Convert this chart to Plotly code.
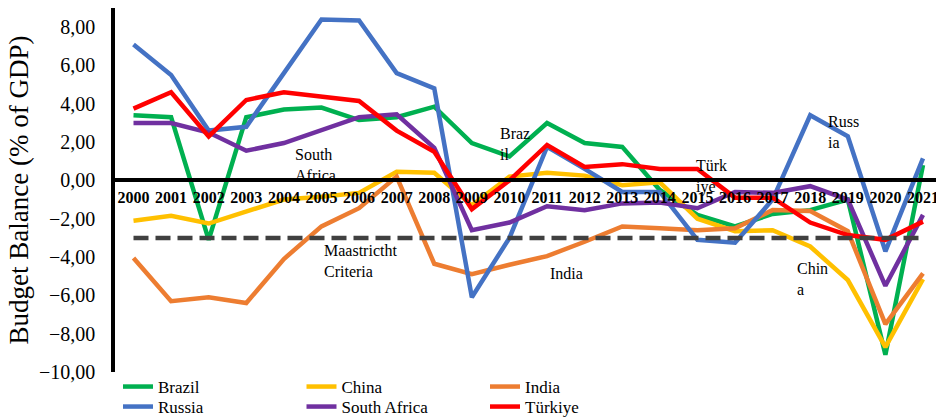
import plotly.graph_objects as go

years = [str(y) for y in range(2000, 2022)]

brazil = [3.4, 3.3, -3.1, 3.3, 3.7, 3.8, 3.15, 3.3, 3.85, 1.95, 1.25, 3.0,
          1.95, 1.75, -0.5, -1.8, -2.4, -1.75, -1.55, -1.0, -9.1, 0.8]
china = [-2.1, -1.85, -2.25, -1.6, -1.0, -0.85, -0.65, 0.45, 0.4, -1.3, 0.2, 0.4,
         0.25, -0.25, -0.1, -2.0, -2.65, -2.6, -3.45, -5.2, -8.7, -5.15]
india = [-4.05, -6.3, -6.1, -6.4, -4.1, -2.4, -1.45, 0.2, -4.35, -4.9, -4.4, -3.95,
         -3.2, -2.4, -2.5, -2.6, -2.5, -1.55, -1.6, -2.65, -7.5, -4.85]
russia = [7.1, 5.5, 2.6, 2.8, 5.6, 8.4, 8.35, 5.6, 4.8, -6.1, -3.0, 1.75,
          0.6, -0.6, -0.6, -3.1, -3.25, -1.0, 3.4, 2.3, -3.7, 1.15]
south_africa = [3.0, 3.0, 2.5, 1.55, 1.95, 2.6, 3.3, 3.45, 1.7, -2.6, -2.2, -1.35,
                -1.55, -1.2, -1.15, -1.45, -0.6, -0.65, -0.3, -1.0, -5.5, -1.8]
turkiye = [3.75, 4.6, 2.3, 4.2, 4.6, 4.4, 4.15, 2.6, 1.5, -1.5, 0.0, 1.85,
           0.7, 0.85, 0.6, 0.6, -0.9, -0.9, -2.2, -2.85, -3.1, -2.15]
maastricht = [-3.0] * len(years)

series = [
    ("Brazil", brazil, "#00B050", "legend"),
    ("China", china, "#FFC000", "legend"),
    ("India", india, "#ED7D31", "legend"),
    ("Russia", russia, "#4472C4", "legend2"),
    ("South Africa", south_africa, "#7030A0", "legend2"),
    ("Türkiye", turkiye, "#FF0000", "legend2"),
]

FONT = "Liberation Serif"

fig = go.Figure()
for name, vals, color, lg in series:
    fig.add_trace(go.Scatter(x=years, y=vals, mode="lines", name=name,
                             line=dict(color=color, width=4.5), legend=lg))
fig.add_trace(go.Scatter(x=years, y=maastricht, mode="lines", name="Maastrictht Criteria",
                         line=dict(color="#404040", width=4.5, dash="15px,7px"),
                         showlegend=False))

# plot area in pixels
L, R, T, B = 115, 936, 8, 372
W, H = R - L, B - T


def px(x):
    return (x - L) / W


def py(y):
    return (B - y) / H


labels = [
    ("South<br>Africa", 293, 165),
    ("Maastrictht<br>Criteria", 322, 261),
    ("Braz<br>il", 498, 144),
    ("India", 548, 273),
    ("Türk<br>iye", 694, 176),
    ("Russ<br>ia", 826, 132),
    ("Chin<br>a", 795, 279),
]
for txt, x, y in labels:
    fig.add_annotation(text=txt, x=px(x), y=py(y), xref="paper", yref="paper",
                       xanchor="left", yanchor="middle", showarrow=False, align="left",
                       font=dict(family=FONT, size=16, color="#000000"))

fig.update_layout(
    width=936, height=418,
    margin=dict(l=L, r=936 - R, t=T, b=418 - B, autoexpand=False),
    paper_bgcolor="white", plot_bgcolor="white",
    separators=", ",
    font=dict(family=FONT, color="#000000"),
    showlegend=True,
    legend=dict(orientation="h", x=px(118), y=py(369), xref="paper", yref="paper",
                xanchor="left", yanchor="top", entrywidth=138.5, entrywidthmode="pixels",
                font=dict(family=FONT, size=17, color="#000000"),
                bgcolor="rgba(0,0,0,0)", borderwidth=0),
    legend2=dict(orientation="h", x=px(118), y=py(389), xref="paper", yref="paper",
                 xanchor="left", yanchor="top", entrywidth=138.5, entrywidthmode="pixels",
                 font=dict(family=FONT, size=17, color="#000000"),
                 bgcolor="rgba(0,0,0,0)", borderwidth=0),
)

fig.update_xaxes(type="category", categoryorder="array", categoryarray=years,
                 range=[-0.492, 21.346], anchor="free", position=10 / 19,
                 showline=True, linecolor="#000000", linewidth=3.5,
                 showgrid=False, zeroline=False, ticks="outside", ticklen=2,
                 tickcolor="rgba(0,0,0,0)",
                 tickfont=dict(family=FONT, size=16, color="#000000", weight="bold"))
fig.update_yaxes(range=[-10, 9], tickmode="array",
                 tickvals=[8, 6, 4, 2, 0, -2, -4, -6, -8, -10],
                 tickformat=".2f", showline=True, linecolor="#000000", linewidth=3.5,
                 showgrid=False, zeroline=False, ticks="outside", ticklen=12,
                 tickcolor="rgba(0,0,0,0)",
                 tickfont=dict(family=FONT, size=20, color="#000000"),
                 title=dict(text="Budget Balance (% of GDP)", standoff=4,
                            font=dict(family=FONT, size=27, color="#000000")))

fig.write_html("out.html")
